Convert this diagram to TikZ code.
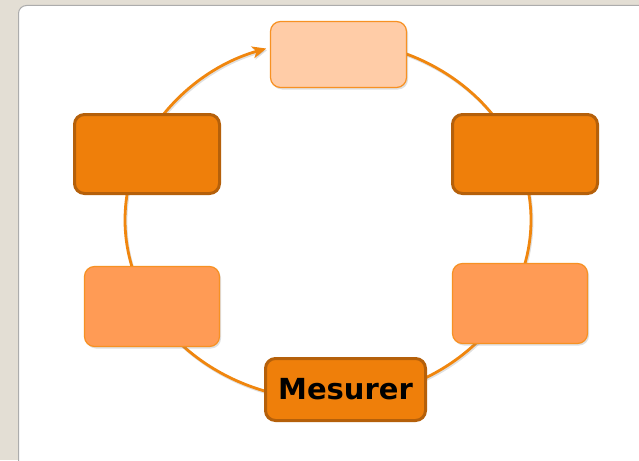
\documentclass[tikz,border=0pt]{standalone}
\usepackage{fontspec}
\setmainfont{DejaVu Sans}
\usetikzlibrary{positioning,shadows,arrows.meta}

\definecolor{pagebg}{RGB}{227,222,212}
\definecolor{darkfill}{RGB}{239,127,10}
\definecolor{darkline}{RGB}{181,96,10}
\definecolor{midfill}{RGB}{255,155,85}
\definecolor{palefill}{RGB}{255,204,167}
\definecolor{lightline}{RGB}{247,145,35}
\definecolor{ringline}{RGB}{240,134,14}

\tikzset{
	phase/.style={rounded corners=10pt, inner sep=0pt},
	phasedark/.style={phase, fill=darkfill, draw=darkline, line width=3pt,
		minimum width=145pt, minimum height=79pt},
	phaselight/.style={phase, fill=midfill, draw=lightline, line width=1.2pt,
		minimum width=135pt, minimum height=80pt,
		drop shadow={shadow xshift=1.5pt, shadow yshift=-2pt, opacity=0.25}},
	ring/.style={ringline, line width=2.8pt,
		preaction={draw=black, opacity=0.12, line width=2.8pt, transform canvas={xshift=1pt, yshift=-1.5pt}}}
}

\begin{document}
\begin{tikzpicture}[x=1pt, y=-1pt]
	\useasboundingbox (0, 0) rectangle (639, 460);
	\fill[pagebg] (0, 0) rectangle (639, 460);
	\filldraw[fill=white, draw=gray!65, line width=1pt, rounded corners=8pt] (18.5, 5.5) rectangle (680, 500);

	% the cycle, behind the boxes
	\coordinate (c) at (328, 220);
	\foreach \a/\b in {-87/-21, -21/26, 26/85, 85/151, 151/202}
		\draw[ring] (c) ++(\a:203 and 180) arc[start angle=\a, end angle=\b, x radius=203, y radius=180];
	\draw[ring, -{Stealth[length=14pt, width=12pt, inset=4pt]}] (c) ++(202:203 and 180)
		arc[start angle=202, end angle=252.3, x radius=203, y radius=180];

	\node[phaselight, fill=palefill, minimum width=136pt, minimum height=66pt] (top) at (338.5, 54.5) {};
	\node[phasedark] (topleft) at (147, 154) {};
	\node[phasedark] (topright) at (525, 154) {};
	\node[phaselight] (botleft) at (152, 306.5) {};
	\node[phaselight] (botright) at (520, 303.5) {};
	\node[phasedark, minimum width=160pt, minimum height=62pt, font=\bfseries\fontsize{29}{32}\selectfont] (mesurer) at (345.5, 389.5) {Mesurer};
\end{tikzpicture}
\end{document}
